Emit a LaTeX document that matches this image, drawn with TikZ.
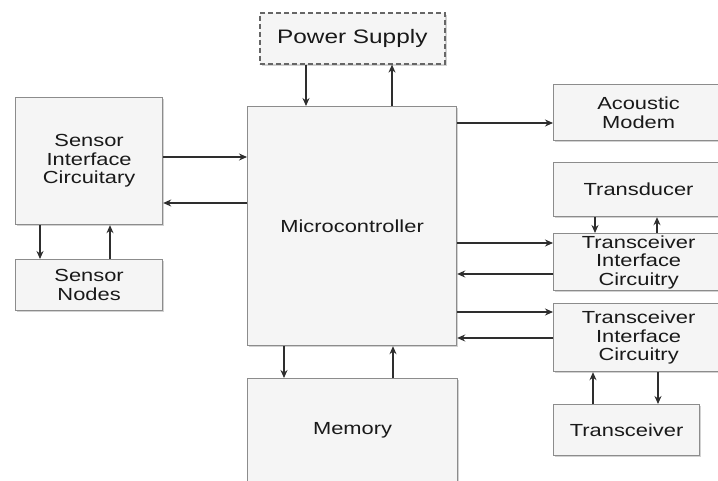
\documentclass[tikz,border=0pt]{standalone}
\usepackage{fontspec}
\setmainfont{Liberation Sans}[FakeStretch=1.25]
\usetikzlibrary{arrows.meta,shadows}
\definecolor{boxfill}{HTML}{F5F5F5}
\definecolor{boxline}{HTML}{8C8C8C}
\definecolor{arrowcol}{HTML}{2E2E2E}
\begin{document}
\begin{tikzpicture}[x=1pt,y=-1pt,
  box/.style={draw=boxline, fill=boxfill, line width=1.2pt, align=center, inner sep=0pt,
    anchor=north west, text=black!90,
    font=\fontsize{17.5}{18.5}\selectfont,
    drop shadow={shadow xshift=1.8pt,shadow yshift=-1.8pt,opacity=0.35}},
  arr/.style={-{Stealth[length=8pt,width=7pt]}, line width=1.2pt, draw=arrowcol}]
\useasboundingbox (0,0) rectangle (718,481);
\clip (0,0) rectangle (718,481);
\fill[white] (0,0) rectangle (718,481);
% boxes
\node[box, dash pattern=on 5pt off 3pt, line width=1.6pt, draw=black!60, minimum width=185pt, minimum height=51pt, font=\fontsize{19.5}{20}\selectfont] (ps) at (259,12) {Power Supply};
\node[box, minimum width=209pt, minimum height=239pt] (mc) at (247,106) {Microcontroller};
\node[box, minimum width=147pt, minimum height=127pt] (sic) at (15,97) {Sensor\\Interface\\Circuitary};
\node[box, minimum width=147pt, minimum height=51pt] (sn) at (15,259) {Sensor\\Nodes};
\node[box, minimum width=170pt, minimum height=56pt] (am) at (553,84) {Acoustic\\Modem};
\node[box, minimum width=170pt, minimum height=54pt] (td) at (553,162) {Transducer};
\node[box, minimum width=170pt, minimum height=57pt] (tic1) at (553,233) {Transceiver\\Interface\\Circuitry};
\node[box, minimum width=170pt, minimum height=68pt] (tic2) at (553,303) {Transceiver\\Interface\\Circuitry};
\node[box, minimum width=146pt, minimum height=51pt] (tr) at (553,404) {Transceiver};
\node[box, minimum width=210pt, minimum height=104pt] (mem) at (247,378) {Memory};
% guide coordinates
\coordinate (xa) at (306,0);
\coordinate (xb) at (392,0);
\coordinate (ya) at (0,157);
\coordinate (yb) at (0,203);
\coordinate (xc) at (40,0);
\coordinate (xd) at (110,0);
\coordinate (yc) at (0,123);
\coordinate (xe) at (595,0);
\coordinate (xf) at (657,0);
\coordinate (yd) at (0,243);
\coordinate (ye) at (0,274);
\coordinate (yf) at (0,312);
\coordinate (yg) at (0,338);
\coordinate (xg) at (593,0);
\coordinate (xh) at (658,0);
\coordinate (xi) at (284,0);
\coordinate (xj) at (393,0);
% connectors
\draw[arr] (ps.south -| xa) -- (mc.north -| xa);
\draw[arr] (mc.north -| xb) -- (ps.south -| xb);
\draw[arr] (sic.east |- ya) -- (mc.west |- ya);
\draw[arr] (mc.west |- yb) -- (sic.east |- yb);
\draw[arr] (sic.south -| xc) -- (sn.north -| xc);
\draw[arr] (sn.north -| xd) -- (sic.south -| xd);
\draw[arr] (mc.east |- yc) -- (am.west |- yc);
\draw[arr] (td.south -| xe) -- (tic1.north -| xe);
\draw[arr] (tic1.north -| xf) -- (td.south -| xf);
\draw[arr] (mc.east |- yd) -- (tic1.west |- yd);
\draw[arr] (tic1.west |- ye) -- (mc.east |- ye);
\draw[arr] (mc.east |- yf) -- (tic2.west |- yf);
\draw[arr] (tic2.west |- yg) -- (mc.east |- yg);
\draw[arr] (tr.north -| xg) -- (tic2.south -| xg);
\draw[arr] (tic2.south -| xh) -- (tr.north -| xh);
\draw[arr] (mc.south -| xi) -- (mem.north -| xi);
\draw[arr] (mem.north -| xj) -- (mc.south -| xj);
\end{tikzpicture}
\end{document}
